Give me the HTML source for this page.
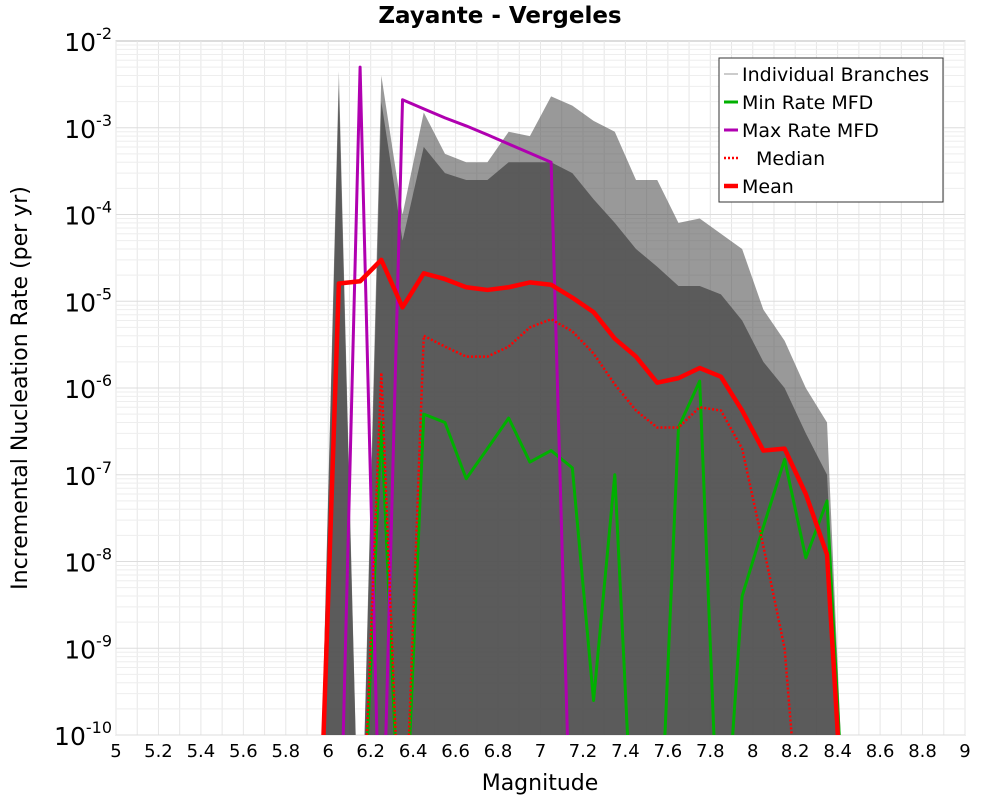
<!DOCTYPE html>
<html><head><meta charset="utf-8"><style>
html,body{margin:0;padding:0;background:#fff;overflow:hidden;width:1000px;height:800px}
svg{display:block}
svg text{font-family:"DejaVu Sans","Liberation Sans",sans-serif}
</style></head><body>
<svg id="c" width="1000" height="800" xmlns="http://www.w3.org/2000/svg"></svg>
<script>
const mags=[5.95,6.05,6.15,6.25,6.35,6.45,6.55,6.65,6.75,6.85,6.95,7.05,7.15,7.25,7.35,7.45,7.55,7.65,7.75,7.85,7.95,8.05,8.15,8.25,8.35,8.45];
const meanVals=[0,1.6e-5,1.7e-5,3e-5,8.5e-6,2.1e-5,1.8e-5,1.45e-5,1.35e-5,1.45e-5,1.65e-5,1.55e-5,1.1e-5,7.5e-6,3.7e-6,2.3e-6,1.15e-6,1.3e-6,1.7e-6,1.35e-6,5.5e-7,1.9e-7,2e-7,6e-8,1.2e-8,0];
const medianVals=[0,0,0,1.5e-6,0,4e-6,3e-6,2.3e-6,2.3e-6,3e-6,5e-6,6.2e-6,4.5e-6,2.5e-6,1.1e-6,5.5e-7,3.5e-7,3.5e-7,6e-7,5.5e-7,2e-7,1.5e-8,1e-9,0,0,0];
const minVals=[0,0,0,4e-7,0,5e-7,4e-7,9e-8,2e-7,4.5e-7,1.4e-7,1.9e-7,1.2e-7,2.5e-10,1e-7,0,0,3.5e-7,1.2e-6,0,4e-9,2.5e-8,1.5e-7,1.1e-8,5e-8,0];
const maxVals=[0,0,5e-3,0,2.1e-3,1.65e-3,1.3e-3,1.05e-3,8.3e-4,6.5e-4,5.1e-4,4e-4,0,0,0,0,0,0,0,0,0,0,0,0,0,0];
const branchUpper=[0,4.5e-3,0,4e-3,1e-4,1.5e-3,5e-4,4e-4,4e-4,9e-4,8e-4,2.3e-3,1.8e-3,1.2e-3,9e-4,2.5e-4,2.5e-4,8e-5,9e-5,6e-5,4e-5,8e-6,3.5e-6,1e-6,4e-7,0];
const branchCore=[0,3e-3,0,2e-3,5e-5,6e-4,3e-4,2.5e-4,2.5e-4,4e-4,4e-4,4e-4,3e-4,1.5e-4,8e-5,4e-5,2.5e-5,1.5e-5,1.5e-5,1.2e-5,6e-6,2e-6,1e-6,3e-7,1e-7,0];
const xTicks=[5,5.2,5.4,5.6,5.8,6,6.2,6.4,6.6,6.8,7,7.2,7.4,7.6,7.8,8,8.2,8.4,8.6,8.8,9];
const yExps=[-2,-3,-4,-5,-6,-7,-8,-9,-10];
const L=116,R=965,T=41,B=735;
const X=m=>L+(m-5)/4*(R-L);
const Y=v=>{const lv=v>0?Math.log10(v):-12;return T+(-2-lv)/8*(B-T);};
const svg=document.getElementById('c');const NS='http://www.w3.org/2000/svg';
function mk(t,a,p){const e=document.createElementNS(NS,t);for(const k in a)e.setAttribute(k,a[k]);(p||svg).appendChild(e);return e;}
const defs=mk('defs',{});const cp=mk('clipPath',{id:'cl'},defs);mk('rect',{x:L,y:T,width:R-L,height:B-T},cp);
const plot=mk('rect',{x:L,y:T,width:R-L,height:B-T,fill:'#fff',stroke:'#bbb'});


const grid=mk('g',{});


for(let m=5;m<=9.001;m+=0.1)mk('line',{x1:X(m),x2:X(m),y1:T,y2:B,stroke:'#e6e6e6'},grid);
for(let e=-10;e<-2;e++)for(let k=1;k<10;k++){const y=Y(k*Math.pow(10,e));mk('line',{x1:L,x2:R,y1:y,y2:y,stroke:k==1?'#ddd':'#eee'},grid);}
const g=mk('g',{'clip-path':'url(#cl)'});
function poly(up,fill,name){let pts=mags.map((m,i)=>X(m)+','+Y(up[i]));for(let i=mags.length-1;i>=0;i--)pts.push(X(mags[i])+','+Y(0));const p=mk('polygon',{points:pts.join(' '),fill:fill},g);}
poly(branchUpper,'rgba(85,85,85,0.6)','branches-envelope');
poly(branchCore,'rgba(80,80,80,0.85)','branches-core');
function line(vals,col,w,dash,name){const p=mk('polyline',{points:mags.map((m,i)=>X(m)+','+Y(vals[i])).join(' '),fill:'none',stroke:col,'stroke-width':w,'stroke-dasharray':dash||'none','stroke-linejoin':'round'},g);}
line(minVals,'#00b000',3,null,'min-rate-line');
line(maxVals,'#b000b0',3,null,'max-rate-line');
line(medianVals,'#f00',2.5,'2,2','median-line');
line(meanVals,'#f00',4.5,null,'mean-line');
xTicks.forEach(t=>{const e=mk('text',{x:X(t),y:B+22,'font-size':18,'text-anchor':'middle'});e.textContent=String(t);});
yExps.forEach(ex=>{const e=mk('text',{x:L-4,y:Y(Math.pow(10,ex))+10,'font-size':25,'text-anchor':'end'});e.innerHTML='10<tspan dy="-12" font-size="16">'+ex+'</tspan>';});
const tt=mk('text',{x:500,y:23,'font-size':23,'font-weight':'bold','text-anchor':'middle'});tt.textContent='Zayante - Vergeles';

const xt=mk('text',{x:540,y:790,'font-size':22,'text-anchor':'middle'});xt.textContent='Magnitude';

const yt=mk('text',{x:0,y:0,'font-size':22,'text-anchor':'middle',transform:'translate(27,388) rotate(-90)'});yt.textContent='Incremental Nucleation Rate (per yr)';

const lg=mk('g',{});
mk('rect',{x:719,y:58,width:224,height:144,fill:'#fff',stroke:'#333'},lg);
const items=[['Individual Branches','#999',1,null],['Min Rate MFD','#00b000',3,null],['Max Rate MFD','#b000b0',3,null],['Median','#f00',2.5,'2,2'],['Mean','#f00',4.5,null]];
items.forEach((it,i)=>{const y=74+i*28;const ge=mk('g',{},lg);
mk('line',{x1:724,x2:738,y1:y,y2:y,stroke:it[1],'stroke-width':it[2],'stroke-dasharray':it[3]||'none'},ge);
const t=mk('text',{x:i==3?756:742,y:y+7,'font-size':19},ge);t.textContent=it[0];});
</script>
</body></html>
